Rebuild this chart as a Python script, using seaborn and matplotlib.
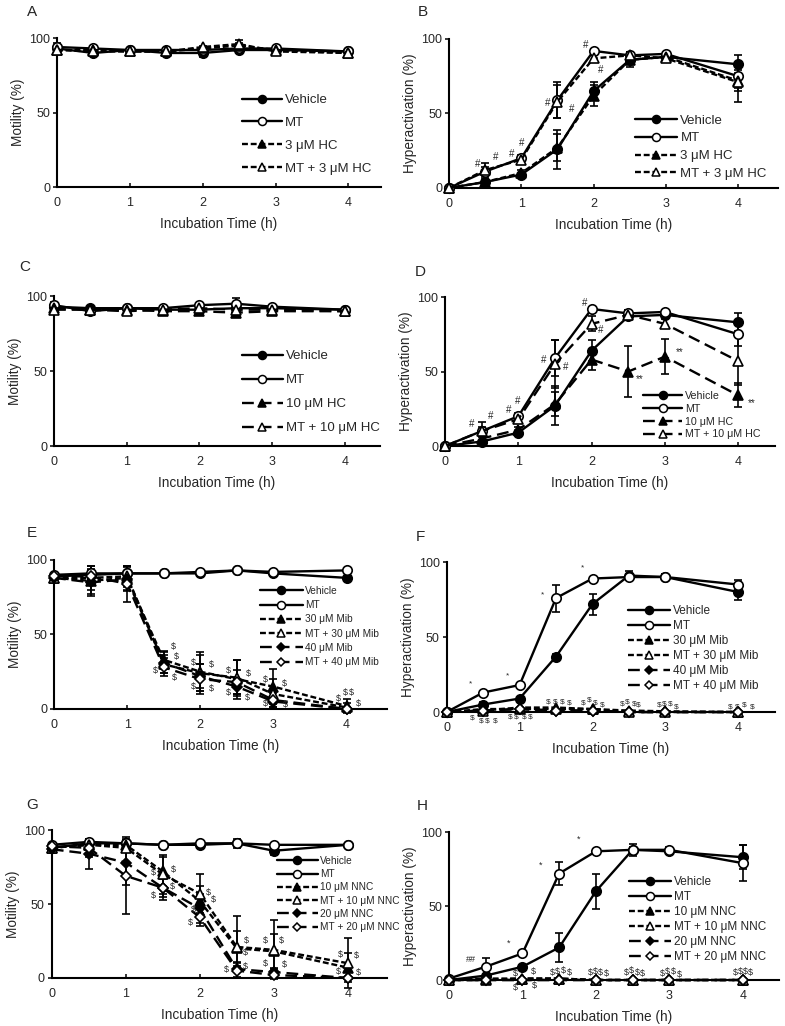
import numpy as np
import pandas as pd
import matplotlib
matplotlib.use('Agg')
import matplotlib.pyplot as plt
import seaborn as sns
from matplotlib.lines import Line2D

sns.set_style('ticks')
plt.rcParams['font.family'] = ['Liberation Sans', 'DejaVu Sans']

# 时间点
t = [0, 0.5, 1, 1.5, 2, 2.5, 3, 4]

# A 运动率 3 μM HC
veh_A = [93, 90, 92, 90, 90, 92, 92, 91]
mt_A = [94, 93, 92, 92, 92, 93, 93, 91]
hc3_A = [92, 92, 91, 91, 93, 95, 92, 90]
mthc3_A = [92, 91, 91, 91, 94, 96, 91, 90]
veh_A_sd = [4, 1, 1, 1, 3, 2, 1, 1]
mt_A_sd = [1, 1, 1, 1, 1, 1, 1, 1]
hc3_A_sd = [1, 1, 1, 1, 1, 2, 1, 1]
mthc3_A_sd = [1, 1, 1, 1, 1, 3, 1, 1]

# B 超活化 3 μM HC
veh_B = [0, 4, 9, 26, 65, 86, 88, 83]
mt_B = [0, 11, 20, 59, 92, 89, 90, 75]
hc3_B = [0, 4, 10, 27, 62, 86, 88, 72]
mthc3_B = [0, 12, 19, 58, 87, 89, 87, 71]
veh_B_sd = [0, 1, 1, 13, 6, 3, 2, 6]
mt_B_sd = [0, 3, 2, 12, 1, 2, 1, 8]
hc3_B_sd = [0, 1, 2, 9, 7, 5, 2, 7]
mthc3_B_sd = [0, 5, 2, 11, 2, 2, 2, 13]
marks_B = [('#', 0.39, 16), ('#', 0.65, 21), ('#', 0.87, 23), ('#', 1.0, 30),
           ('#', 1.36, 57), ('#', 1.70, 53), ('#', 1.89, 96), ('#', 2.1, 79)]

# C 运动率 10 μM HC
veh_C = [93, 92, 92, 91, 91, 92, 92, 91]
mt_C = [94, 90, 92, 92, 94, 95, 93, 91]
hc10_C = [92, 91, 91, 90, 90, 89, 90, 90]
mthc10_C = [91, 91, 90, 91, 92, 91, 91, 90]
veh_C_sd = [3, 1, 1, 1, 1, 1, 1, 1]
mt_C_sd = [1, 1, 1, 1, 1, 4, 1, 1]
hc10_C_sd = [1, 1, 1, 1, 1, 1, 1, 1]
mthc10_C_sd = [1, 1, 1, 1, 1, 1, 1, 1]

# D 超活化 10 μM HC
veh_D = [0, 3, 9, 27, 64, 87, 88, 83]
mt_D = [0, 10, 20, 59, 92, 89, 90, 75]
hc10_D = [0, 5, 11, 28, 58, 50, 60, 34]
mthc10_D = [0, 10, 18, 55, 82, 88, 82, 57]
veh_D_sd = [0, 1, 1, 13, 7, 2, 2, 6]
mt_D_sd = [0, 3, 2, 12, 1, 2, 1, 8]
hc10_D_sd = [0, 1, 2, 8, 7, 17, 12, 8]
mthc10_D_sd = [0, 6, 2, 16, 5, 3, 3, 16]
marks_D = [('#', 0.36, 15), ('#', 0.62, 20), ('#', 0.87, 24), ('#', 0.99, 30),
           ('#', 1.35, 58), ('#', 1.65, 53), ('#', 1.9, 96), ('#', 2.12, 78),
           ('**', 2.66, 45), ('**', 3.2, 63), ('**', 4.18, 29)]

# E 运动率 Mib
veh_E = [89, 90, 91, 91, 91, 93, 91, 88]
mt_E = [90, 91, 91, 91, 92, 93, 92, 93]
mib30_E = [88, 86, 88, 33, 25, 20, 15, 2]
mtmib30_E = [88, 88, 89, 30, 24, 21, 10, 1]
mib40_E = [88, 85, 87, 31, 22, 15, 5, 0]
mtmib40_E = [89, 89, 84, 28, 20, 18, 6, 0]
veh_E_sd = [1, 1, 1, 1, 1, 1, 1, 1]
mt_E_sd = [1, 1, 1, 1, 1, 1, 1, 1]
mib30_E_sd = [0, 10, 8, 6, 13, 13, 12, 5]
mtmib30_E_sd = [0, 8, 7, 6, 12, 12, 10, 3]
mib40_E_sd = [0, 8, 8, 7, 8, 5, 4, 1]
mtmib40_E_sd = [0, 5, 12, 6, 10, 8, 5, 0]
marks_E = [('$', 1.63, 42), ('$', 1.68, 35), ('$', 1.38, 26), ('$', 1.64, 21),
           ('$', 1.90, 31), ('$', 2.15, 30), ('$', 1.90, 15), ('$', 2.15, 14),
           ('$', 2.38, 26), ('$', 2.66, 24), ('$', 2.38, 11), ('$', 2.64, 8),
           ('$', 2.89, 20), ('$', 3.15, 17), ('$', 2.89, 4), ('$', 3.16, 3),
           ('$', 3.89, 7), ('$', 3.98, 11), ('$', 4.07, 11), ('$', 4.16, 4)]

# F 超活化 Mib
veh_F = [0, 5, 9, 37, 72, 91, 90, 80]
mt_F = [0, 13, 18, 76, 89, 90, 90, 85]
mib30_F = [0, 2, 2, 2, 2, 1, 0.5, 0]
mtmib30_F = [0, 1, 3, 3, 2, 0, 0, 0]
mib40_F = [0, 1, 2, 1, 1, 0, 0, 0]
mtmib40_F = [0, 1, 2, 1, 1, 0, 0, 0]
veh_F_sd = [0, 2, 1, 2, 7, 3, 2, 5]
mt_F_sd = [0, 1, 1, 9, 1, 2, 2, 3]
zero_sd = [0, 0, 0, 0, 0, 0, 0, 0]
marks_F = [('*', 0.33, 19), ('*', 0.84, 24), ('*', 1.32, 78), ('*', 1.86, 96),
           ('$', 0.35, -4), ('$', 0.47, -6), ('$', 0.56, -6), ('$', 0.66, -6),
           ('$', 0.87, -3.5), ('$', 0.95, -3.5), ('$', 1.07, -3.5), ('$', 1.15, -3.5),
           ('$', 1.39, 7), ('$', 1.49, 7), ('$', 1.58, 7), ('$', 1.68, 6),
           ('$', 1.88, 6), ('$', 1.96, 8), ('$', 2.04, 6), ('$', 2.13, 4.5),
           ('$', 2.41, 5.5), ('$', 2.48, 6.5), ('$', 2.57, 5.5), ('$', 2.63, 4.5),
           ('$', 2.91, 4.5), ('$', 2.99, 5.5), ('$', 3.07, 5.5), ('$', 3.15, 3.5),
           ('$', 3.89, 3.5), ('$', 3.98, 3.5), ('$', 4.08, 4.5), ('$', 4.19, 3.5)]

# G 运动率 NNC
veh_G = [88, 91, 91, 90, 90, 91, 86, 90]
mt_G = [90, 92, 91, 90, 91, 91, 90, 90]
nnc10_G = [88, 90, 90, 72, 52, 20, 18, 7]
mtnnc10_G = [88, 90, 88, 70, 57, 21, 19, 10]
nnc20_G = [87, 84, 78, 61, 47, 6, 4, 0]
mtnnc20_G = [89, 88, 69, 61, 41, 5, 2, 0]
veh_G_sd = [2, 3, 3, 1, 1, 3, 3, 1]
mt_G_sd = [1, 1, 1, 1, 1, 1, 1, 1]
nnc10_G_sd = [0, 3, 3, 10, 10, 12, 12, 10]
mtnnc10_G_sd = [0, 3, 3, 13, 13, 21, 20, 17]
nnc20_G_sd = [0, 10, 15, 6, 10, 5, 3, 1]
mtnnc20_G_sd = [0, 6, 26, 8, 6, 5, 2, 0]
marks_G = [('$', 1.37, 71), ('$', 1.64, 73), ('$', 1.37, 56), ('$', 1.63, 62),
           ('$', 2.11, 58), ('$', 2.18, 53), ('$', 1.91, 46), ('$', 1.87, 37.5),
           ('$', 2.63, 25), ('$', 2.62, 17), ('$', 2.62, 8), ('$', 2.36, 6),
           ('$', 2.88, 25), ('$', 3.1, 25), ('$', 2.88, 10), ('$', 3.14, 9),
           ('$', 3.9, 16), ('$', 4.12, 15), ('$', 3.87, 4.5), ('$', 4.14, 4)]

# H 超活化 NNC
veh_H = [0, 3, 9, 22, 60, 88, 87, 83]
mt_H = [1, 9, 18, 72, 87, 88, 88, 79]
nnc10_H = [0, 0, 1, 1, 0, 0, 0, 0]
mtnnc10_H = [0, 1, 1, 1, 0, 0, 0, 0]
nnc20_H = [0, 0, 0, 0, 0, 0, 0, 0]
mtnnc20_H = [0, 0, 0, 0, 0, 0, 0, 0]
veh_H_sd = [0, 1, 1, 10, 12, 2, 2, 8]
mt_H_sd = [0, 6, 1, 8, 1, 4, 2, 12]
marks_H = [('##', 0.3, 14), ('*', 0.81, 25), ('*', 1.25, 77.5), ('*', 1.77, 95.5),
           ('$', 0.91, 4.5), ('$', 0.91, -5), ('$', 1.15, 5.6), ('$', 1.16, -4),
           ('$', 1.41, 5), ('$', 1.48, 6), ('$', 1.56, 6.5), ('$', 1.64, 5),
           ('$', 1.92, 5), ('$', 1.99, 6), ('$', 2.06, 5), ('$', 2.14, 4.5),
           ('$', 2.41, 5), ('$', 2.49, 6.5), ('$', 2.56, 5), ('$', 2.64, 4.5),
           ('$', 2.9, 4.5), ('$', 2.98, 6), ('$', 3.06, 5.5), ('$', 3.14, 4),
           ('$', 3.9, 5), ('$', 3.97, 5.5), ('$', 4.04, 6), ('$', 4.11, 5)]

# 线型
SHORT = (0, (2.5, 1.2))
LONG = (0, (5, 2.5))
SOLID = '-'
sty_veh = dict(marker='o', mfc='black', ls=SOLID, ms=6.8)
sty_mt = dict(marker='o', mfc='white', ls=SOLID, ms=6.8)
sty_tri_f = dict(marker='^', mfc='black', ls=SHORT, ms=7)
sty_tri_o = dict(marker='^', mfc='white', ls=SHORT, ms=7)
sty_dia_f = dict(marker='D', mfc='black', ls=LONG, ms=5)
sty_dia_o = dict(marker='D', mfc='white', ls=LONG, ms=5)


def draw(ax, series, ylabel, xmax, leg, marks=None, ms_font=7):
    for label, y, sd, sty in series:
        yerr = np.array(sd, dtype=float)
        keep = yerr > 0
        if keep.any():
            ax.errorbar(np.array(t)[keep], np.array(y)[keep], yerr=yerr[keep], fmt='none',
                        ecolor='black', elinewidth=1.2, capsize=3, capthick=1.2, zorder=2,
                        clip_on=False)
    for label, y, sd, sty in series:
        df = pd.DataFrame({'time': t, 'value': y})
        sns.lineplot(data=df, x='time', y='value', ax=ax, color='black', lw=1.7,
                     linestyle=sty['ls'], marker=sty['marker'], markersize=sty['ms'],
                     markerfacecolor=sty['mfc'], markeredgecolor='black',
                     markeredgewidth=1.2, errorbar=None, legend=False, clip_on=False,
                     zorder=3)
    handles = [Line2D([], [], color='black', lw=1.7, linestyle=sty['ls'],
                      marker=sty['marker'], markersize=sty['ms'] * 0.85,
                      markerfacecolor=sty['mfc'], markeredgecolor='black',
                      markeredgewidth=1.1) for _, _, _, sty in series]
    labels = [s[0] for s in series]
    ax.legend(handles, labels, loc='lower left', bbox_to_anchor=leg['pos'], frameon=False,
              borderpad=0, borderaxespad=0, fontsize=leg['fs'], handlelength=leg['hl'],
              handletextpad=0.25, labelspacing=leg['ls'], numpoints=1)
    if marks:
        for s, x, yy in marks:
            ax.text(x, yy, s, fontsize=ms_font, ha='center', va='center', clip_on=False)
    ax.set_xlim(0, xmax)
    ax.set_ylim(0, 100)
    ax.set_xticks([0, 1, 2, 3, 4])
    ax.set_yticks([0, 50, 100])
    ax.set_xlabel('Incubation Time (h)', fontsize=9.8, labelpad=6)
    ax.set_ylabel(ylabel, fontsize=9.8, labelpad=3)
    ax.tick_params(axis='x', direction='in', length=3, width=1.3, pad=7, labelsize=9)
    ax.tick_params(axis='y', direction='out', length=3, width=1.3, pad=2, labelsize=9)
    for sp in ['left', 'bottom']:
        ax.spines[sp].set_linewidth(1.5)
        ax.spines[sp].set_color('black')
    sns.despine(ax=ax)


fig = plt.figure(figsize=(7.85, 10.26), dpi=100)

axA = fig.add_axes([0.0726, 0.8177, 0.413, 0.1452])
draw(axA, [('Vehicle', veh_A, veh_A_sd, sty_veh), ('MT', mt_A, mt_A_sd, sty_mt),
           ('3 μM HC', hc3_A, hc3_A_sd, sty_tri_f),
           ('MT + 3 μM HC', mthc3_A, mthc3_A_sd, sty_tri_o)],
     'Motility (%)', 4.45, dict(pos=(0.571, 0.084), fs=9.5, hl=3.0, ls=0.8))

axB = fig.add_axes([0.572, 0.8168, 0.419, 0.1452])
draw(axB, [('Vehicle', veh_B, veh_B_sd, sty_veh), ('MT', mt_B, mt_B_sd, sty_mt),
           ('3 μM HC', hc3_B, hc3_B_sd, sty_tri_f),
           ('MT + 3 μM HC', mthc3_B, mthc3_B_sd, sty_tri_o)],
     'Hyperactivation (%)', 4.55, dict(pos=(0.565, 0.054), fs=9.5, hl=3.2, ls=0.42),
     marks_B)

sty_tri_f_l = dict(sty_tri_f, ls=LONG)
sty_tri_o_l = dict(sty_tri_o, ls=LONG)
axC = fig.add_axes([0.0688, 0.5653, 0.415, 0.146])
draw(axC, [('Vehicle', veh_C, veh_C_sd, sty_veh), ('MT', mt_C, mt_C_sd, sty_mt),
           ('10 μM HC', hc10_C, hc10_C_sd, sty_tri_f_l),
           ('MT + 10 μM HC', mthc10_C, mthc10_C_sd, sty_tri_o_l)],
     'Motility (%)', 4.48, dict(pos=(0.577, 0.077), fs=9.5, hl=3.1, ls=0.9))

axD = fig.add_axes([0.567, 0.5653, 0.420, 0.1452])
draw(axD, [('Vehicle', veh_D, veh_D_sd, sty_veh), ('MT', mt_D, mt_D_sd, sty_mt),
           ('10 μM HC', hc10_D, hc10_D_sd, sty_tri_f_l),
           ('MT + 10 μM HC', mthc10_D, mthc10_D_sd, sty_tri_o_l)],
     'Hyperactivation (%)', 4.5, dict(pos=(0.60, 0.044), fs=7.7, hl=3.7, ls=0.26),
     marks_D)

axE = fig.add_axes([0.0688, 0.309, 0.424, 0.1452])
draw(axE, [('Vehicle', veh_E, veh_E_sd, sty_veh), ('MT', mt_E, mt_E_sd, sty_mt),
           ('30 μM Mib', mib30_E, mib30_E_sd, sty_tri_f),
           ('MT + 30 μM Mib', mtmib30_E, mtmib30_E_sd, sty_tri_o),
           ('40 μM Mib', mib40_E, mib40_E_sd, sty_dia_f),
           ('MT + 40 μM Mib', mtmib40_E, mtmib40_E_sd, sty_dia_o)],
     'Motility (%)', 4.55, dict(pos=(0.619, 0.28), fs=7.3, hl=4.2, ls=0.42),
     marks_E, ms_font=6.5)

axF = fig.add_axes([0.569, 0.306, 0.418, 0.1462])
draw(axF, [('Vehicle', veh_F, veh_F_sd, sty_veh), ('MT', mt_F, mt_F_sd, sty_mt),
           ('30 μM Mib', mib30_F, zero_sd, sty_tri_f),
           ('MT + 30 μM Mib', mtmib30_F, zero_sd, sty_tri_o),
           ('40 μM Mib', mib40_F, zero_sd, sty_dia_f),
           ('MT + 40 μM Mib', mtmib40_F, zero_sd, sty_dia_o)],
     'Hyperactivation (%)', 4.5, dict(pos=(0.552, 0.133), fs=8.5, hl=3.55, ls=0.25),
     marks_F, ms_font=6)

axG = fig.add_axes([0.066, 0.0468, 0.427, 0.1442])
draw(axG, [('Vehicle', veh_G, veh_G_sd, sty_veh), ('MT', mt_G, mt_G_sd, sty_mt),
           ('10 μM NNC', nnc10_G, nnc10_G_sd, sty_tri_f),
           ('MT + 10 μM NNC', mtnnc10_G, mtnnc10_G_sd, sty_tri_o),
           ('20 μM NNC', nnc20_G, nnc20_G_sd, sty_dia_f),
           ('MT + 20 μM NNC', mtnnc20_G, mtnnc20_G_sd, sty_dia_o)],
     'Motility (%)', 4.53, dict(pos=(0.672, 0.31), fs=7.3, hl=4.0, ls=0.32),
     marks_G, ms_font=6.5)

axH = fig.add_axes([0.572, 0.0448, 0.42, 0.1442])
draw(axH, [('Vehicle', veh_H, veh_H_sd, sty_veh), ('MT', mt_H, mt_H_sd, sty_mt),
           ('10 μM NNC', nnc10_H, zero_sd, sty_tri_f),
           ('MT + 10 μM NNC', mtnnc10_H, zero_sd, sty_tri_o),
           ('20 μM NNC', nnc20_H, zero_sd, sty_dia_f),
           ('MT + 20 μM NNC', mtnnc20_H, zero_sd, sty_dia_o)],
     'Hyperactivation (%)', 4.49, dict(pos=(0.547, 0.115), fs=8.5, hl=3.55, ls=0.25),
     marks_H, ms_font=6.5)

# 面板字母
for s, x, y in [('A', 32, 12), ('B', 423, 12), ('C', 25, 267), ('D', 420, 272),
                ('E', 32, 533), ('F', 420, 537), ('G', 32, 805), ('H', 422, 806)]:
    fig.text(x / 785, 1 - y / 1026, s, fontsize=11, ha='center', va='center')

fig.savefig('out.png', dpi=100)
